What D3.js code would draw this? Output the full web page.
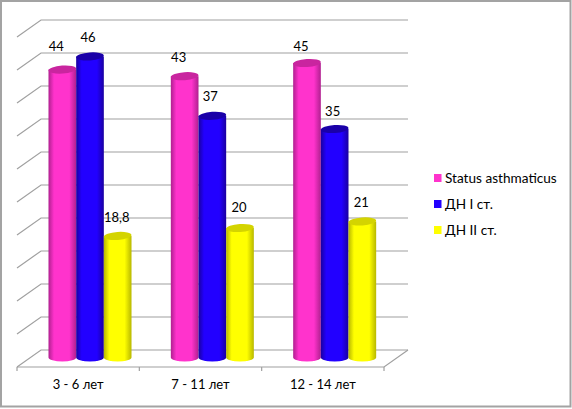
<!DOCTYPE html>
<html>
<head>
<style>
    html, body { margin: 0; padding: 0; background: #fff; }
    svg { display: block; }
    text { font-family: Lato, "Open Sans", sans-serif; font-size: 13px; fill: #000; }
    .legend-label { font-size: 13.6px; }
</style>
<script src="https://d3js.org/d3.v7.min.js"></script>
</head>
<body>
<svg width="572" height="409"></svg>
<script>
    var categories = ["3 - 6 лет", "7 - 11 лет", "12 - 14 лет"];
    var seriesNames = ["Status asthmaticus", "ДН I ст.", "ДН II ст."];
    var asthmaticus = [44, 43, 45];
    var dn1 = [46, 37, 35];
    var dn2 = [18.8, 20, 21];
    var valueLabels = [["44", "43", "45"], ["46", "37", "35"], ["18,8", "20", "21"]];
    var gridTicks = [0, 5, 10, 15, 20, 25, 30, 35, 40, 45, 50];

    var seriesColors = [
        { main: "#ff33cc", edge: "#b02090", top: "#c9259f" },
        { main: "#2200ff", edge: "#1a00a0", top: "#1a00a8" },
        { main: "#ffff00", edge: "#b8b800", top: "#d4d400" }
    ];

    var svg = d3.select("svg");

    // frame
    svg.append("rect")
        .attr("x", 1).attr("y", 1)
        .attr("width", 569.5).attr("height", 405.5)
        .attr("fill", "#fff")
        .attr("stroke", "#a3a3a3")
        .attr("stroke-width", 2);

    // depth of the 3d box
    var depthX = 24, depthY = 17;
    var frontLeft = 17, frontRight = 384, floorY = 367;

    var x = d3.scaleBand()
        .domain(categories)
        .range([frontLeft, frontRight]);

    var y = d3.scaleLinear()
        .domain([0, 50])
        .range([floorY - depthY, floorY - depthY - 330]);

    // inner scale for the three bars in a group
    var x1 = d3.scaleBand()
        .domain([0, 1, 2])
        .range([31.5, 114.5]);

    var grid = svg.append("g")
        .attr("fill", "none")
        .attr("stroke", "#a0a0a0")
        .attr("stroke-width", 1.2);

    gridTicks.forEach(function (t) {
        grid.append("path")
            .attr("d", "M" + frontLeft + "," + (y(t) + depthY) +
                "L" + (frontLeft + depthX) + "," + y(t) +
                "L" + (frontRight + depthX) + "," + y(t));
    });

    // floor
    grid.append("path")
        .attr("d", "M" + frontLeft + "," + floorY + "L" + frontRight + "," + floorY +
            "L" + (frontRight + depthX) + "," + y(0));

    // category ticks
    var tickXs = categories.map(function (c) { return x(c); }).concat([frontRight]);
    tickXs.forEach(function (t) {
        grid.append("line")
            .attr("x1", t).attr("x2", t)
            .attr("y1", floorY).attr("y2", floorY + 4);
    });

    // category labels through an axis
    var xAxis = d3.axisBottom(x).tickSize(0).tickPadding(13);
    var axisG = svg.append("g")
        .attr("transform", "translate(0," + floorY + ")")
        .call(xAxis);
    axisG.select(".domain").remove();
    axisG.attr("font-family", null).attr("font-size", null);

    // horizontal shading of cylinders
    var defs = svg.append("defs");
    seriesColors.forEach(function (c, i) {
        var g = defs.append("linearGradient")
            .attr("id", "cyl" + i)
            .attr("x1", "0").attr("x2", "1").attr("y1", "0").attr("y2", "0");
        g.append("stop").attr("offset", "0").attr("stop-color", c.edge);
        g.append("stop").attr("offset", "0.2").attr("stop-color", c.main);
        g.append("stop").attr("offset", "0.75").attr("stop-color", c.main);
        g.append("stop").attr("offset", "1").attr("stop-color", c.edge);
    });

    var allValues = [asthmaticus, dn1, dn2];
    var labelShift = [-6, -2, -1];
    // hand placed labels in the original, gap above each bar top
    var labelGap = [[17, 13, 11], [13, 13, 12], [12, 14.5, 13]];
    var baseY = y(0) + depthY / 2 - 1;
    var ry = 4;

    allValues.forEach(function (values, s) {
        categories.forEach(function (cat, i) {
            var left = x(cat) + x1(s);
            var w = x1.bandwidth();
            var rx = w / 2;
            var topY = y(values[i]) + depthY / 2 + 1.5;

            var g = svg.append("g");
            g.append("path")
                .attr("fill", "url(#cyl" + s + ")")
                .attr("d", "M" + left + "," + topY +
                    "L" + left + "," + baseY +
                    "A" + rx + "," + ry + " 0 0 0 " + (left + w) + "," + baseY +
                    "L" + (left + w) + "," + topY + "Z");
            // the caps lean a little in the original
            g.append("ellipse")
                .attr("cx", left + rx)
                .attr("cy", topY)
                .attr("rx", rx)
                .attr("ry", ry)
                .attr("transform", "rotate(-4 " + (left + rx) + " " + topY + ")")
                .attr("fill", seriesColors[s].top);
        });
    });

    // value labels drawn last
    allValues.forEach(function (values, s) {
        categories.forEach(function (cat, i) {
            svg.append("text")
                .attr("x", x(cat) + x1(s) + x1.bandwidth() / 2 + labelShift[s])
                .attr("y", y(values[i]) + depthY / 2 - labelGap[s][i])
                .attr("text-anchor", "middle")
                .text(valueLabels[s][i]);
        });
    });

    // legend
    var legendY = d3.scalePoint()
        .domain(seriesNames)
        .range([178, 230]);

    seriesNames.forEach(function (name, i) {
        svg.append("rect")
            .attr("x", 434)
            .attr("y", legendY(name) - 4)
            .attr("width", 7.5)
            .attr("height", 8)
            .attr("fill", seriesColors[i].main);
        svg.append("text")
            .attr("class", "legend-label")
            .attr("x", 445)
            .attr("y", legendY(name) + 4.5)
            .text(name);
    });
</script>
</body>
</html>
